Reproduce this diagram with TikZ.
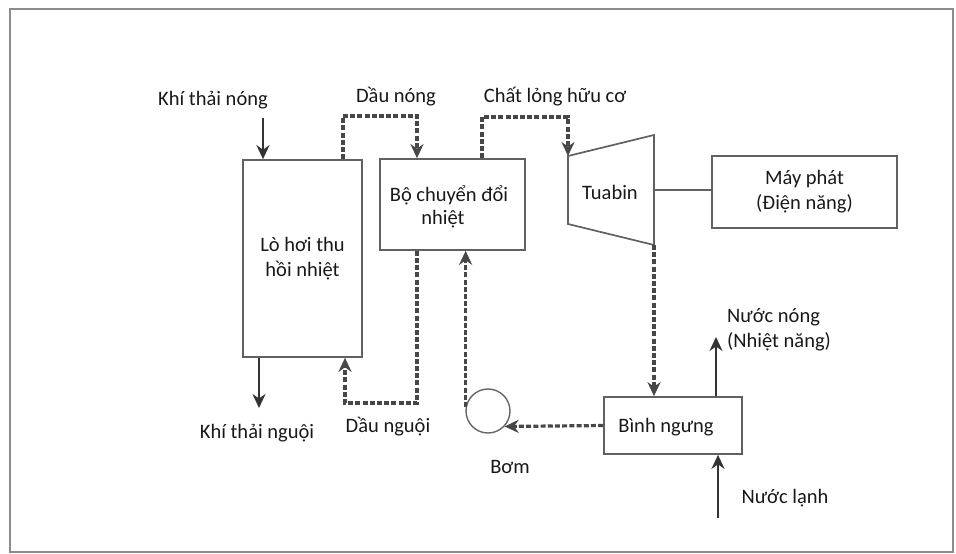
\documentclass[tikz,border=0pt]{standalone}
\usepackage{fontspec}
\setmainfont{Carlito}
\usetikzlibrary{arrows.meta}
\begin{document}
\begin{tikzpicture}[x=1pt,y=-1pt,
  every node/.style={font=\fontsize{20.5}{25}\selectfont, text=black!90},
  box/.style={draw=black!62, line width=1.7pt, fill=white, inner sep=0pt, align=center},
  lbl/.style={inner sep=0pt, align=center},
  arr/.style={draw=black!80, line width=2.3pt, -{Stealth[length=14pt,width=13pt]}},
  darr/.style={draw=black!72, line width=3.2pt, dash pattern=on 5pt off 2.2pt, -{Stealth[length=14pt,width=13pt]}},
  shaft/.style={draw=black!62, line width=1.7pt}]
\useasboundingbox (0,0) rectangle (956,554);
\fill[white] (0,0) rectangle (956,554);
% outer frame
\draw[black!45, line width=2.8pt] (10,9) rectangle (953,552);

% boxes
\node[box, minimum width=119pt, minimum height=197pt] (boiler) at (302.5,258.5) {Lò hơi thu\\ hồi nhiệt};
\node[box, minimum width=145pt, minimum height=91pt] (hx) at (452.5,204.5) {};
\node[lbl] (hxt1) at (449,195) {Bộ chuyển đổi};
\node[lbl] (hxt2) at (443,219) {nhiệt};
\node[box, minimum width=185pt, minimum height=72pt] (gen) at (804.5,192) {Máy phát\\ (Điện năng)};
\node[box, minimum width=138pt, minimum height=57pt] (cond) at (673,425.5) {};
\node[lbl] (condt) at (666,427) {Bình ngưng};
\node[draw=black!60, line width=1.4pt, circle, minimum size=44pt, inner sep=0pt] (pump) at (488,411) {};

% turbine
\coordinate (ttl) at (568,156);
\coordinate (tbl) at (568,224);
\coordinate (ttr) at (654,135);
\coordinate (tbr) at (654,245);
\draw[black!62, line width=1.7pt, fill=white] (ttl) -- (ttr) -- (tbr) -- (tbl) -- cycle;
\node[lbl] (turb) at (610,192) {Tuabin};
\coordinate (tshaft) at (654,190);
\draw[shaft] (tshaft) -- (tshaft -| gen.west);

% labels
\node[lbl] (lkhin) at (213,100) {Khí thải nóng};
\node[lbl] (ldaun) at (396,97) {Dầu nóng};
\node[lbl] (lclhc) at (555,97) {Chất lỏng hữu cơ};
\node[lbl] (lkhing) at (257,433) {Khí thải nguội};
\node[lbl] (ldaung) at (388,427) {Dầu nguội};
\node[lbl] (lbom) at (510,467) {Bơm};
\node[lbl, align=left, anchor=west] (lnuocn) at (727,330) {Nước nóng\\ (Nhiệt năng)};
\node[lbl] (lnuocl) at (785,498) {Nước lạnh};

% solid arrows
\coordinate (khin) at (263,118);
\draw[arr] (khin) -- (khin |- boiler.north);
\coordinate (khing) at (259,408);
\draw[arr] (khing |- boiler.south) -- (khing);
\coordinate (nn) at (716,337);
\draw[arr] (nn |- cond.north) -- (nn);
\coordinate (nl) at (718,518);
\draw[arr] (nl) -- (nl |- cond.south);

% dashed flows
\coordinate (dn1) at (343,116);
\coordinate (dn2) at (417,116);
\draw[darr] (dn1 |- boiler.north) -- (dn1) -- (dn2) -- (dn2 |- hx.north);
\coordinate (cl1) at (482,117);
\draw[darr] (cl1 |- hx.north) -- (cl1) -| (ttl);
\draw[darr] (tbr) -- (tbr |- cond.north);
\coordinate (du1) at (417,403);
\coordinate (du2) at (345,403);
\draw[darr] (du1 |- hx.south) -- (du1) -- (du2) -- (du2 |- boiler.south);
\draw[darr] (cond.west) -- (pump.-43);
\draw[darr] (pump.170) -- (pump.170 |- hx.south);
\end{tikzpicture}
\end{document}
